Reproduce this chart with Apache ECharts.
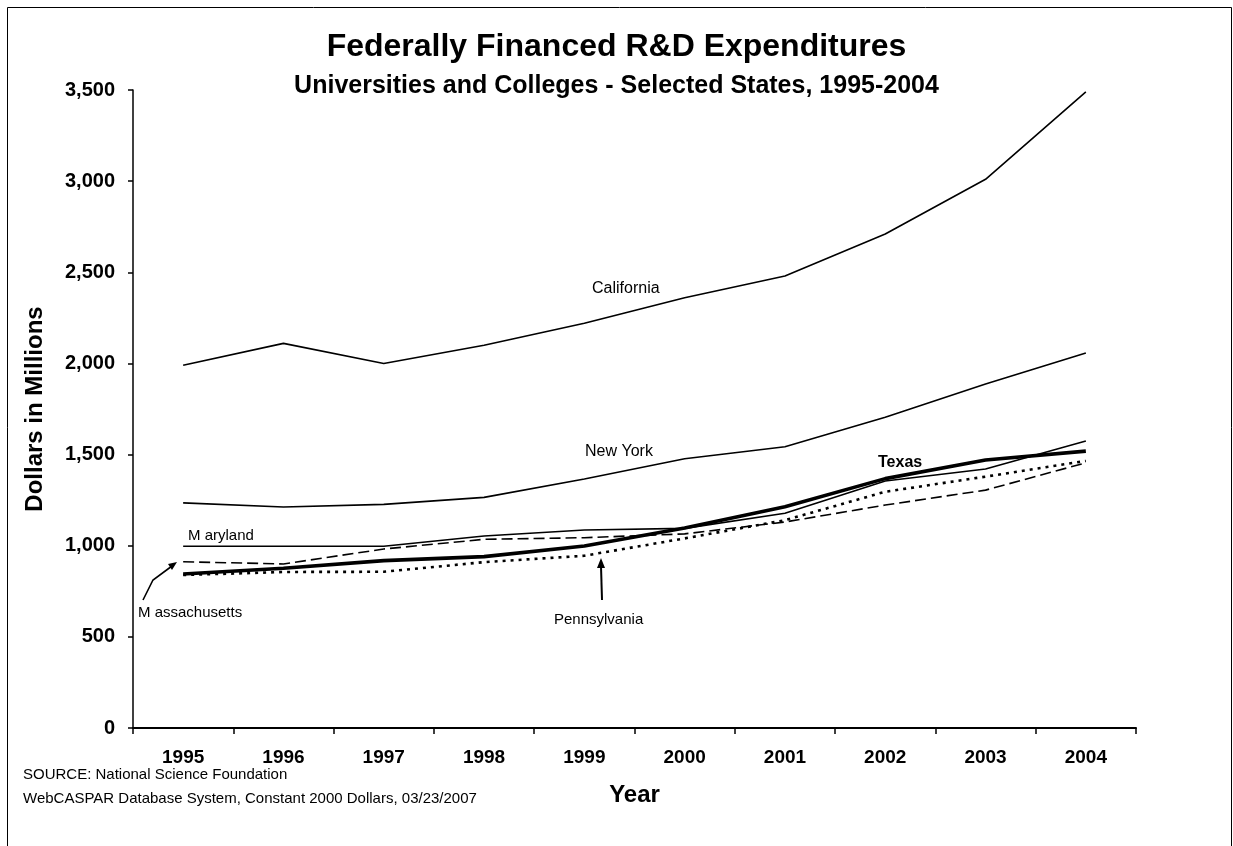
<!DOCTYPE html>
<html>
<head>
<meta charset="utf-8">
<script src="https://cdn.jsdelivr.net/npm/echarts@6/dist/echarts.min.js"></script>
<style>
  html, body { margin: 0; padding: 0; background: #fff; }
  #chart { width: 1233px; height: 846px; }
</style>
</head>
<body>
<div id="chart"></div>
<script>
// Federally financed R&D expenditures at universities and colleges, millions of constant 2000 dollars
const years = ['1995', '1996', '1997', '1998', '1999', '2000', '2001', '2002', '2003', '2004'];
const california    = [1990, 2110, 2000, 2100, 2220, 2360, 2480, 2710, 3010, 3490];
const newYork       = [1235, 1212, 1227, 1265, 1366, 1477, 1543, 1705, 1887, 2057];
const maryland      = [997, 997, 997, 1053, 1086, 1095, 1178, 1355, 1421, 1574];
const texas         = [845, 876, 918, 940, 998, 1097, 1214, 1368, 1470, 1519];
const massachusetts = [912, 900, 982, 1035, 1044, 1065, 1130, 1223, 1305, 1455];
const pennsylvania  = [839, 856, 857, 910, 945, 1040, 1140, 1296, 1379, 1465];
const yTicks = [0, 500, 1000, 1500, 2000, 2500, 3000, 3500];

const FONT = '"Liberation Sans", Arial, sans-serif';
const chart = echarts.init(document.getElementById('chart'), null, { renderer: 'canvas' });

function line(name, data, width, type) {
  return {
    name, type: 'line', data,
    symbol: 'none', smooth: false, silent: true,
    lineStyle: { color: '#000', width, type, cap: 'butt' }
  };
}

function note(text, x, y, font) {
  return { type: 'text', x, y, silent: true,
    style: { text, font, fill: '#000', align: 'left', verticalAlign: 'middle' } };
}

chart.setOption({
  backgroundColor: '#fff',
  animation: false,
  title: [
    { text: 'Federally Financed R&D Expenditures', left: 'center', top: 26,
      textStyle: { fontFamily: FONT, fontSize: 32, fontWeight: 'bold', color: '#000' } },
    { text: 'Universities and Colleges - Selected States, 1995-2004', left: 'center', top: 69,
      textStyle: { fontFamily: FONT, fontSize: 25, fontWeight: 'bold', color: '#000' } }
  ],
  grid: { left: 133, right: 97, top: 90, bottom: 118, containLabel: false },
  xAxis: {
    type: 'category', data: years, boundaryGap: true,
    name: 'Year', nameLocation: 'middle', nameGap: 55,
    nameTextStyle: { fontFamily: FONT, fontSize: 24, fontWeight: 'bold', color: '#000' },
    axisLine: { lineStyle: { color: '#000', width: 2 } },
    axisTick: { show: true, length: 6, inside: false, alignWithLabel: false, lineStyle: { color: '#000', width: 1.5 } },
    axisLabel: { margin: 20, fontFamily: FONT, fontSize: 19, fontWeight: 'bold', color: '#000' },
    splitLine: { show: false }
  },
  yAxis: {
    type: 'value', min: 0, max: 3500, interval: 500,
    name: 'Dollars in Millions', nameLocation: 'middle', nameGap: 86, nameRotate: 90,
    nameTextStyle: { fontFamily: FONT, fontSize: 24, fontWeight: 'bold', color: '#000' },
    axisLine: { show: true, lineStyle: { color: '#000', width: 1.5 } },
    axisTick: { show: true, length: 5, lineStyle: { color: '#000', width: 1.5 } },
    axisLabel: {
      margin: 18, fontFamily: FONT, fontSize: 20, fontWeight: 'bold', color: '#000',
      formatter: v => yTicks.includes(v) ? v.toLocaleString('en-US') : ''
    },
    splitLine: { show: false }
  },
  series: [
    line('California', california, 1.6, 'solid'),
    line('New York', newYork, 1.6, 'solid'),
    line('Maryland', maryland, 1.6, 'solid'),
    line('Massachusetts', massachusetts, 1.6, [11, 5]),
    line('Pennsylvania', pennsylvania, 2.6, [3, 5]),
    line('Texas', texas, 3.6, 'solid')
  ],
  graphic: [
    // outer frame
    { type: 'rect', shape: { x: 7.5, y: 7.5, width: 1224, height: 860 },
      style: { fill: null, stroke: '#000', lineWidth: 1 }, silent: true },
    // series annotations
    note('California', 592, 289, '16px ' + FONT),
    note('New York', 585, 452, '16px ' + FONT),
    note('Texas', 878, 463, 'bold 16px ' + FONT),
    note('M aryland', 188, 536, '15px ' + FONT),
    note('M assachusetts', 138, 613, '15px ' + FONT),
    note('Pennsylvania', 554, 620, '15px ' + FONT),
    // leader arrows
    { type: 'polyline', shape: { points: [[143, 600], [153, 580], [172, 566]] },
      style: { stroke: '#000', lineWidth: 1.6, fill: null }, silent: true },
    { type: 'polygon', shape: { points: [[177, 562], [168, 564], [172, 570]] },
      style: { fill: '#000' }, silent: true },
    { type: 'line', shape: { x1: 602, y1: 600, x2: 601, y2: 566 },
      style: { stroke: '#000', lineWidth: 2 }, silent: true },
    { type: 'polygon', shape: { points: [[601, 558], [597, 568], [605, 568]] },
      style: { fill: '#000' }, silent: true },
    // source note
    note('SOURCE: National Science Foundation', 23, 775, '15px ' + FONT),
    note('WebCASPAR Database System, Constant 2000 Dollars, 03/23/2007', 23, 799, '15px ' + FONT)
  ]
});
</script>
</body>
</html>
